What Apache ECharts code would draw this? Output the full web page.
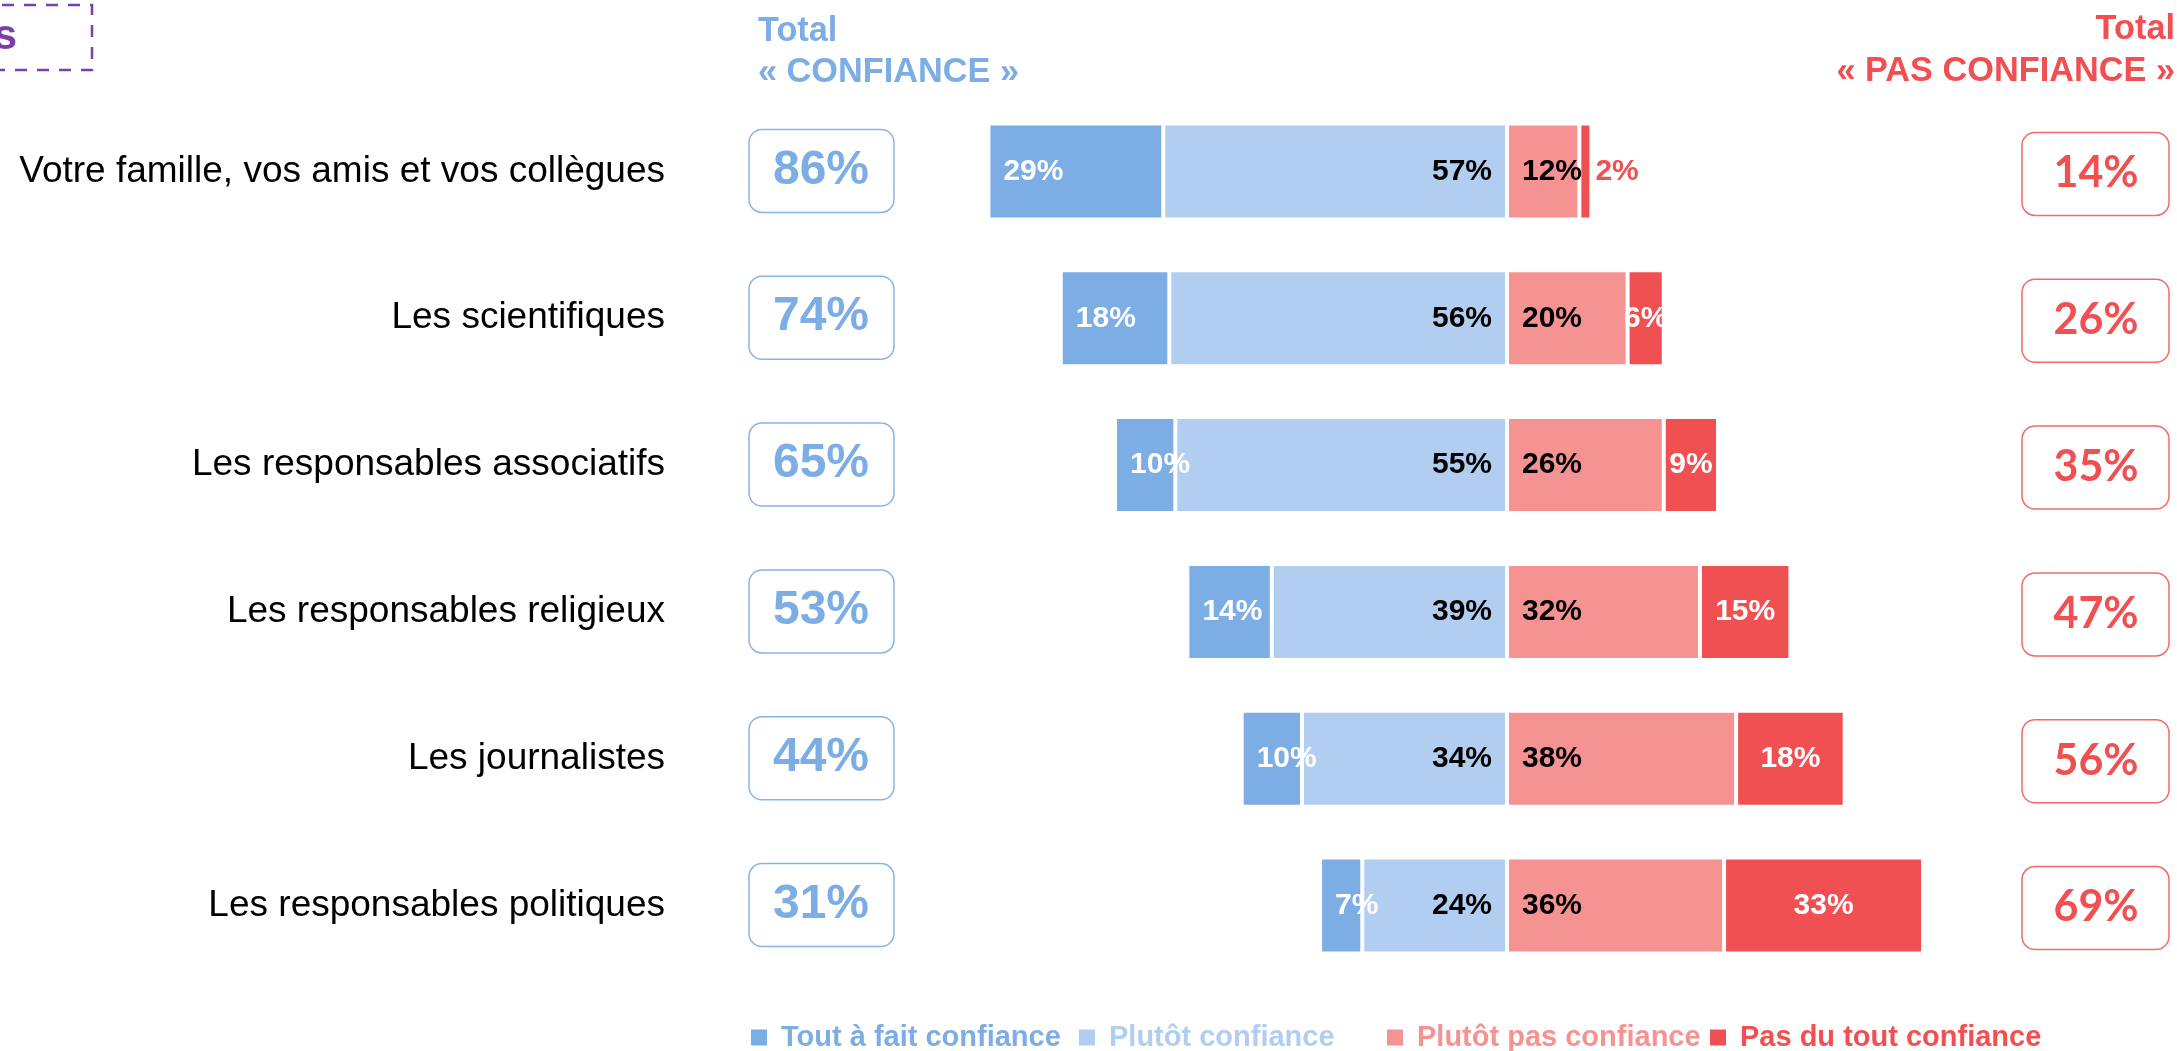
<!DOCTYPE html>
<html>
<head>
<meta charset="utf-8">
<script src="https://cdn.jsdelivr.net/npm/echarts@6/dist/echarts.min.js"></script>
<style>
html,body{margin:0;padding:0;background:#fff;}
#main{width:2177px;height:1051px;}
</style>
</head>
<body>
<div id="main"></div>
<script>
const categories = [
  'Votre famille, vos amis et vos collègues',
  'Les scientifiques',
  'Les responsables associatifs',
  'Les responsables religieux',
  'Les journalistes',
  'Les responsables politiques'
];
const toutAFait = [29, 18, 10, 14, 10, 7];
const plutot = [57, 56, 55, 39, 34, 24];
const plutotPas = [12, 20, 26, 32, 38, 36];
const pasDuTout = [2, 6, 9, 15, 18, 33];
const totalConfiance = [86, 74, 65, 53, 44, 31];
const totalPasConfiance = [14, 26, 35, 47, 56, 69];
const seriesNames = ['Tout à fait confiance', 'Plutôt confiance', 'Plutôt pas confiance', 'Pas du tout confiance'];

const C_DARKBLUE = '#7DADE5';
const C_LIGHTBLUE = '#B1CDF0';
const C_PINK = '#F59393';
const C_RED = '#F05052';
const FONT = '"Liberation Sans", Arial, Helvetica, sans-serif';

const chart = echarts.init(document.getElementById('main'), null, {renderer: 'canvas'});

const fmt = p => Math.abs(p.value) + '%';
const labelBase = {show: true, fontFamily: FONT, fontWeight: 'bold', fontSize: 30, formatter: fmt};

function legendFor(i, left, color) {
  return {
    data: [{name: seriesNames[i], textStyle: {color: color}}],
    left: left, top: 1023, padding: 0,
    icon: 'rect', itemWidth: 18, itemHeight: 18,
    selectedMode: false,
    textStyle: {fontFamily: FONT, fontWeight: 'bold', fontSize: 29, padding: [0, 0, 0, 8]}
  };
}

const option = {
  animation: false,
  backgroundColor: '#fff',
  grid: {left: 904, right: 67, top: 98, bottom: 72, containLabel: false},
  xAxis: {type: 'value', min: -100, max: 100, show: false},
  yAxis: {
    type: 'category', data: categories, inverse: true,
    axisLine: {show: false}, axisTick: {show: false}, splitLine: {show: false},
    axisLabel: {fontFamily: FONT, fontSize: 37, color: '#000', margin: 239}
  },
  legend: [
    legendFor(0, 749, C_DARKBLUE),
    legendFor(1, 1077, C_LIGHTBLUE),
    legendFor(2, 1385, C_PINK),
    legendFor(3, 1708, C_RED)
  ],
  series: [
    {
      name: seriesNames[1], type: 'bar', stack: 'all', barWidth: 96,
      data: plutot.map(v => -v),
      itemStyle: {color: C_LIGHTBLUE, borderColor: '#fff', borderWidth: 2},
      label: Object.assign({}, labelBase, {position: 'insideRight', distance: 15, color: '#000'})
    },
    {
      name: seriesNames[0], type: 'bar', stack: 'all', barWidth: 96,
      data: toutAFait.map(v => -v),
      itemStyle: {color: C_DARKBLUE, borderColor: '#fff', borderWidth: 2},
      label: Object.assign({}, labelBase, {position: 'insideLeft', distance: 15, color: '#fff'})
    },
    {
      name: seriesNames[2], type: 'bar', stack: 'all', barWidth: 96,
      data: plutotPas,
      itemStyle: {color: C_PINK, borderColor: '#fff', borderWidth: 2},
      label: Object.assign({}, labelBase, {position: 'insideLeft', distance: 15, color: '#000'})
    },
    {
      name: seriesNames[3], type: 'bar', stack: 'all', barWidth: 96,
      data: pasDuTout.map(v => v < 4
        ? {value: v, label: {position: 'right', distance: 4, color: C_RED}}
        : v),
      itemStyle: {color: C_RED, borderColor: '#fff', borderWidth: 2},
      label: Object.assign({}, labelBase, {position: 'inside', color: '#fff'})
    }
  ]
};
chart.setOption(option);

const graphics = [];
// header texts
graphics.push({type: 'text', left: 758, top: 15, style: {text: 'Total', font: 'bold 34.3px ' + FONT, fill: C_DARKBLUE}});
graphics.push({type: 'text', left: 758, top: 56, style: {text: '« CONFIANCE »', font: 'bold 34.3px ' + FONT, fill: C_DARKBLUE}});
graphics.push({type: 'text', right: 2, top: 13, style: {text: 'Total', font: 'bold 34.3px ' + FONT, fill: C_RED}});
graphics.push({type: 'text', right: 2, top: 55, style: {text: '« PAS CONFIANCE »', font: 'bold 34.3px ' + FONT, fill: C_RED}});
// purple dashed box top-left
graphics.push({type: 'rect', shape: {x: -20, y: 5, width: 112, height: 65}, style: {fill: 'none', stroke: '#7B3FA8', lineWidth: 2.5, lineDash: [12, 10]}});
graphics.push({type: 'text', x: 17, y: 37, style: {text: 's', font: 'bold 42px ' + FONT, fill: '#7B3FA8', textAlign: 'right', textVerticalAlign: 'middle'}});

categories.forEach((c, i) => {
  const y = chart.convertToPixel({yAxisIndex: 0}, i);
  graphics.push({
    type: 'group', x: 821, y: y - 1,
    children: [
      {type: 'rect', shape: {x: -72, y: -41, width: 145, height: 83, r: 13}, style: {fill: '#fff', stroke: '#8AB4E8', lineWidth: 1.5}},
      {type: 'text', style: {text: totalConfiance[i] + '%', font: 'bold 48px ' + FONT, fill: C_DARKBLUE, textAlign: 'center', textVerticalAlign: 'middle'}}
    ]
  });
  graphics.push({
    type: 'group', x: 2096, y: y + 2,
    children: [
      {type: 'rect', shape: {x: -74, y: -41, width: 147, height: 83, r: 13}, style: {fill: '#fff', stroke: '#F26A6A', lineWidth: 1.5}},
      {type: 'text', style: {text: totalPasConfiance[i] + '%', font: 'bold 43px Lato, "Open Sans", sans-serif', fill: C_RED, textAlign: 'center', textVerticalAlign: 'middle'}}
    ]
  });
});
chart.setOption({graphic: graphics});
</script>
</body>
</html>
